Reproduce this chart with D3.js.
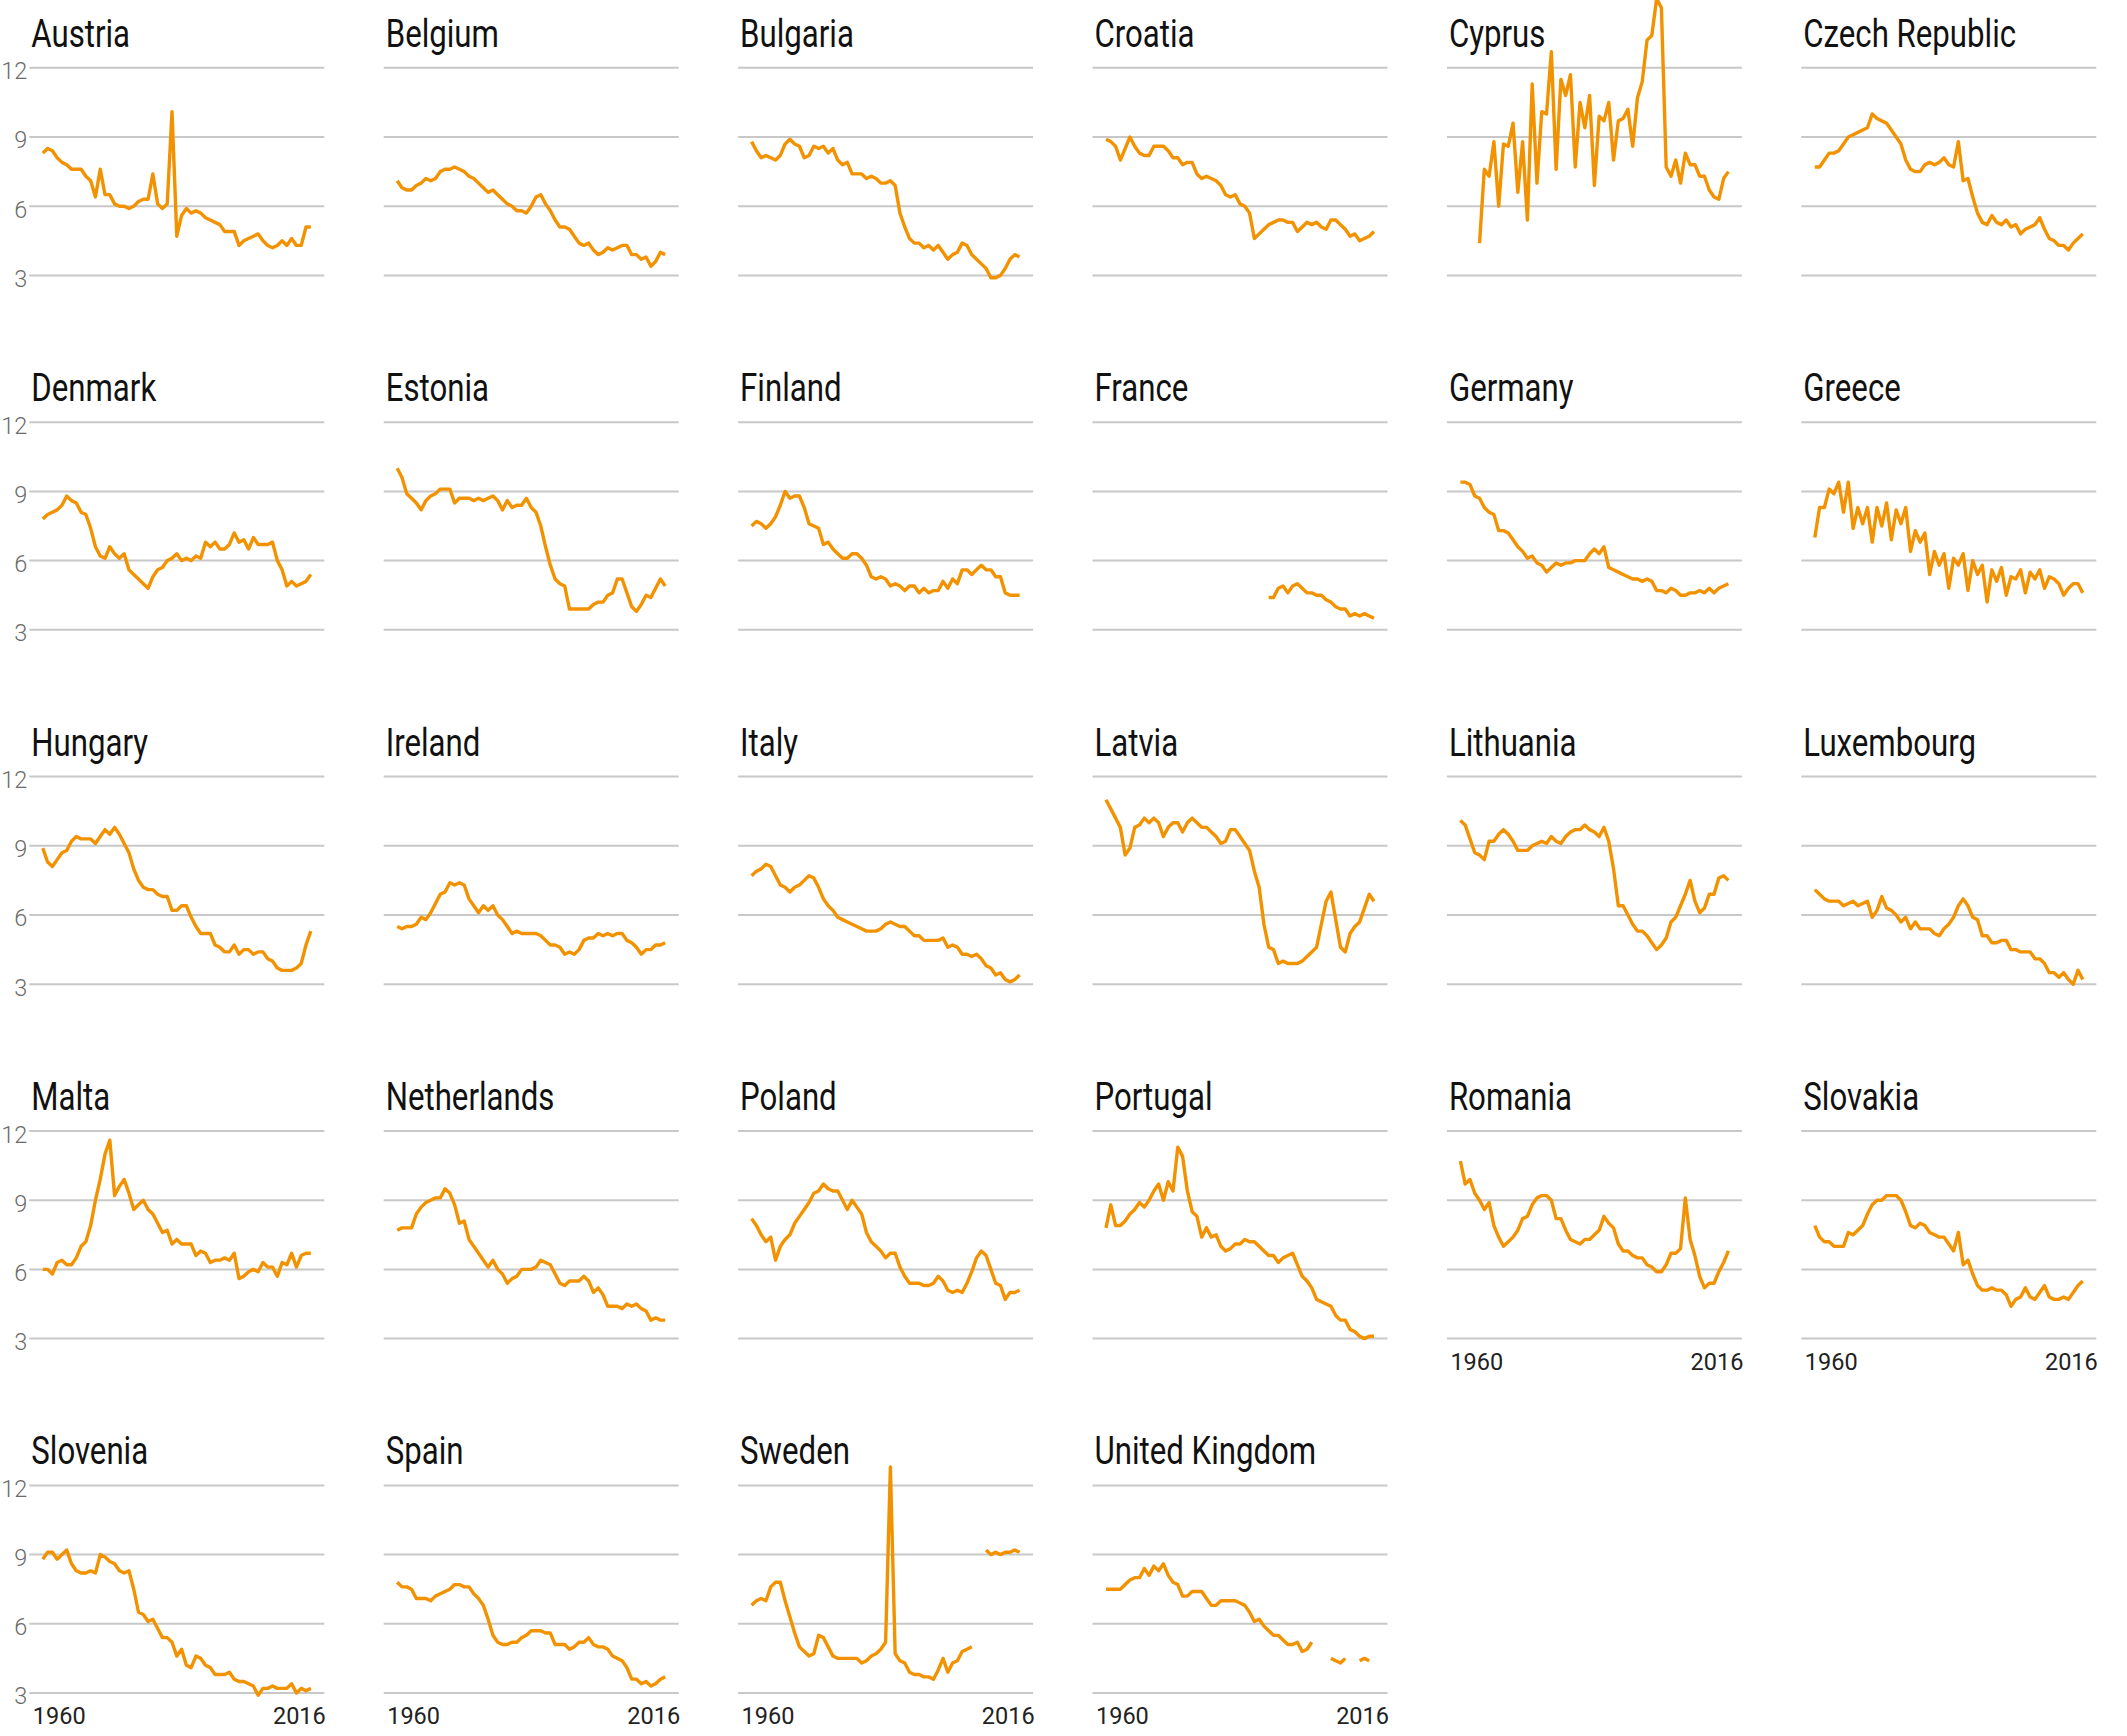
<!DOCTYPE html>
<html>
<head>
<meta charset="utf-8">
<script src="https://cdn.jsdelivr.net/npm/d3@7/dist/d3.min.js"></script>
<style>
  body { margin: 0; background: #fff; }
  text { font-family: Roboto, "Open Sans", sans-serif; }
  text.ytick { font-weight: 300; }
</style>
</head>
<body>
<div id="chart"></div>
<script>
// crude marriage rate per 1000 people, 1960-2016
var firstYear = 1960, lastYear = 2016;
var yTicks = [3, 6, 9, 12];
var xTickLabels = ["1960", "2016"];

var countries = ["Austria", "Belgium", "Bulgaria", "Croatia", "Cyprus", "Czech Republic",
  "Denmark", "Estonia", "Finland", "France", "Germany", "Greece",
  "Hungary", "Ireland", "Italy", "Latvia", "Lithuania", "Luxembourg",
  "Malta", "Netherlands", "Poland", "Portugal", "Romania", "Slovakia",
  "Slovenia", "Spain", "Sweden", "United Kingdom"];

var austria = [8.3, 8.5, 8.4, 8.1, 7.9, 7.8, 7.6, 7.6, 7.6, 7.3,
  7.1, 6.4, 7.6, 6.5, 6.5, 6.1, 6.0, 6.0, 5.9, 6.0,
  6.2, 6.3, 6.3, 7.4, 6.1, 5.9, 6.1, 10.1, 4.7, 5.6,
  5.9, 5.7, 5.8, 5.7, 5.5, 5.4, 5.3, 5.2, 4.9, 4.9,
  4.9, 4.3, 4.5, 4.6, 4.7, 4.8, 4.5, 4.3, 4.2, 4.3,
  4.5, 4.3, 4.6, 4.3, 4.3, 5.1, 5.1];
var belgium = [7.1, 6.8, 6.7, 6.7, 6.9, 7.0, 7.2, 7.1, 7.2, 7.5,
  7.6, 7.6, 7.7, 7.6, 7.5, 7.3, 7.2, 7.0, 6.8, 6.6,
  6.7, 6.5, 6.3, 6.1, 6.0, 5.8, 5.8, 5.7, 6.0, 6.4,
  6.5, 6.1, 5.8, 5.4, 5.1, 5.1, 5.0, 4.7, 4.4, 4.3,
  4.4, 4.1, 3.9, 4.0, 4.2, 4.1, 4.2, 4.3, 4.3, 3.9,
  3.9, 3.7, 3.8, 3.4, 3.6, 4.0, 3.9];
var bulgaria = [8.8, 8.4, 8.1, 8.2, 8.1, 8.0, 8.2, 8.7, 8.9, 8.7,
  8.6, 8.1, 8.2, 8.6, 8.5, 8.6, 8.3, 8.5, 8.0, 7.8,
  7.9, 7.4, 7.4, 7.4, 7.2, 7.3, 7.2, 7.0, 7.0, 7.1,
  6.9, 5.7, 5.1, 4.6, 4.4, 4.4, 4.2, 4.3, 4.1, 4.3,
  4.0, 3.7, 3.9, 4.0, 4.4, 4.3, 3.9, 3.7, 3.5, 3.3,
  2.9, 2.9, 3.0, 3.3, 3.7, 3.9, 3.8];
var croatia = [8.9, 8.8, 8.6, 8.0, 8.5, 9.0, 8.6, 8.3, 8.2, 8.2,
  8.6, 8.6, 8.6, 8.4, 8.1, 8.1, 7.8, 7.9, 7.9, 7.4,
  7.2, 7.3, 7.2, 7.1, 6.9, 6.5, 6.4, 6.5, 6.1, 6.0,
  5.7, 4.6, 4.8, 5.0, 5.2, 5.3, 5.4, 5.4, 5.3, 5.3,
  4.9, 5.1, 5.3, 5.2, 5.3, 5.1, 5.0, 5.4, 5.4, 5.2,
  5.0, 4.7, 4.8, 4.5, 4.6, 4.7, 4.9];
var cyprus = [null, null, null, null, 4.4, 7.6, 7.3, 8.8, 6.0, 8.7,
  8.6, 9.6, 6.6, 8.8, 5.4, 11.3, 7.0, 10.1, 10.0, 12.7,
  7.6, 11.5, 10.8, 11.7, 7.7, 10.5, 9.4, 10.8, 6.9, 9.9,
  9.7, 10.5, 8.0, 9.7, 9.8, 10.2, 8.6, 10.7, 11.4, 13.2,
  13.4, 15.0, 14.6, 7.7, 7.3, 8.0, 7.0, 8.3, 7.8, 7.8,
  7.3, 7.3, 6.7, 6.4, 6.3, 7.2, 7.5];
var czechRepublic = [7.7, 7.7, 8.0, 8.3, 8.3, 8.4, 8.7, 9.0, 9.1, 9.2,
  9.3, 9.4, 10.0, 9.8, 9.7, 9.6, 9.3, 9.0, 8.7, 8.0,
  7.6, 7.5, 7.5, 7.8, 7.9, 7.8, 7.9, 8.1, 7.8, 7.7,
  8.8, 7.1, 7.2, 6.4, 5.7, 5.3, 5.2, 5.6, 5.3, 5.2,
  5.4, 5.1, 5.2, 4.8, 5.0, 5.1, 5.2, 5.5, 5.0, 4.6,
  4.5, 4.3, 4.3, 4.1, 4.4, 4.6, 4.8];
var denmark = [7.8, 8.0, 8.1, 8.2, 8.4, 8.8, 8.6, 8.5, 8.1, 8.0,
  7.4, 6.6, 6.2, 6.1, 6.6, 6.3, 6.1, 6.3, 5.6, 5.4,
  5.2, 5.0, 4.8, 5.3, 5.6, 5.7, 6.0, 6.1, 6.3, 6.0,
  6.1, 6.0, 6.2, 6.1, 6.8, 6.6, 6.8, 6.5, 6.5, 6.7,
  7.2, 6.8, 6.9, 6.5, 7.0, 6.7, 6.7, 6.7, 6.8, 6.0,
  5.6, 4.9, 5.1, 4.9, 5.0, 5.1, 5.4];
var estonia = [10.0, 9.6, 8.9, 8.7, 8.5, 8.2, 8.6, 8.8, 8.9, 9.1,
  9.1, 9.1, 8.5, 8.7, 8.7, 8.7, 8.6, 8.7, 8.6, 8.7,
  8.8, 8.6, 8.2, 8.6, 8.3, 8.4, 8.4, 8.7, 8.3, 8.1,
  7.5, 6.6, 5.8, 5.2, 5.0, 4.9, 3.9, 3.9, 3.9, 3.9,
  3.9, 4.1, 4.2, 4.2, 4.5, 4.6, 5.2, 5.2, 4.6, 4.0,
  3.8, 4.1, 4.5, 4.4, 4.8, 5.2, 4.9];
var finland = [7.5, 7.7, 7.6, 7.4, 7.6, 7.9, 8.4, 9.0, 8.7, 8.8,
  8.8, 8.3, 7.6, 7.5, 7.4, 6.7, 6.8, 6.5, 6.3, 6.1,
  6.1, 6.3, 6.3, 6.1, 5.8, 5.3, 5.2, 5.3, 5.2, 4.9,
  5.0, 4.9, 4.7, 4.9, 4.9, 4.6, 4.8, 4.6, 4.7, 4.7,
  5.1, 4.8, 5.2, 5.0, 5.6, 5.6, 5.4, 5.6, 5.8, 5.6,
  5.6, 5.3, 5.3, 4.6, 4.5, 4.5, 4.5];
var france = [null, null, null, null, null, null, null, null, null, null,
  null, null, null, null, null, null, null, null, null, null,
  null, null, null, null, null, null, null, null, null, null,
  null, null, null, null, 4.4, 4.4, 4.8, 4.9, 4.6, 4.9,
  5.0, 4.8, 4.6, 4.6, 4.5, 4.5, 4.3, 4.2, 4.0, 3.9,
  3.9, 3.6, 3.7, 3.6, 3.7, 3.6, 3.5];
var germany = [9.4, 9.4, 9.3, 8.8, 8.7, 8.3, 8.1, 8.0, 7.3, 7.3,
  7.2, 6.9, 6.6, 6.4, 6.1, 6.2, 5.9, 5.8, 5.5, 5.7,
  5.9, 5.8, 5.9, 5.9, 6.0, 6.0, 6.0, 6.3, 6.5, 6.3,
  6.6, 5.7, 5.6, 5.5, 5.4, 5.3, 5.2, 5.2, 5.1, 5.2,
  5.1, 4.7, 4.7, 4.6, 4.8, 4.7, 4.5, 4.5, 4.6, 4.6,
  4.7, 4.6, 4.8, 4.6, 4.8, 4.9, 5.0];
var greece = [7.0, 8.3, 8.3, 9.1, 8.9, 9.4, 8.1, 9.4, 7.4, 8.3,
  7.6, 8.3, 6.8, 8.3, 7.5, 8.5, 6.9, 8.2, 7.6, 8.3,
  6.4, 7.3, 6.8, 7.2, 5.4, 6.4, 5.8, 6.3, 4.8, 6.1,
  5.8, 6.3, 4.7, 6.0, 5.4, 5.8, 4.2, 5.6, 5.1, 5.7,
  4.5, 5.3, 5.2, 5.6, 4.6, 5.5, 5.2, 5.6, 4.8, 5.3,
  5.2, 5.0, 4.5, 4.8, 5.0, 5.0, 4.6];
var hungary = [8.9, 8.3, 8.1, 8.4, 8.7, 8.8, 9.2, 9.4, 9.3, 9.3,
  9.3, 9.1, 9.4, 9.7, 9.5, 9.8, 9.5, 9.1, 8.7, 8.0,
  7.5, 7.2, 7.1, 7.1, 6.9, 6.8, 6.8, 6.2, 6.2, 6.4,
  6.4, 5.9, 5.5, 5.2, 5.2, 5.2, 4.7, 4.6, 4.4, 4.4,
  4.7, 4.3, 4.5, 4.5, 4.3, 4.4, 4.4, 4.1, 4.0, 3.7,
  3.6, 3.6, 3.6, 3.7, 3.9, 4.7, 5.3];
var ireland = [5.5, 5.4, 5.5, 5.5, 5.6, 5.9, 5.8, 6.1, 6.5, 6.9,
  7.0, 7.4, 7.3, 7.4, 7.3, 6.7, 6.4, 6.1, 6.4, 6.2,
  6.4, 6.0, 5.8, 5.5, 5.2, 5.3, 5.2, 5.2, 5.2, 5.2,
  5.1, 4.9, 4.7, 4.7, 4.6, 4.3, 4.4, 4.3, 4.5, 4.9,
  5.0, 5.0, 5.2, 5.1, 5.2, 5.1, 5.2, 5.2, 4.9, 4.8,
  4.6, 4.3, 4.5, 4.5, 4.7, 4.7, 4.8];
var italy = [7.7, 7.9, 8.0, 8.2, 8.1, 7.7, 7.3, 7.2, 7.0, 7.2,
  7.3, 7.5, 7.7, 7.6, 7.2, 6.7, 6.4, 6.2, 5.9, 5.8,
  5.7, 5.6, 5.5, 5.4, 5.3, 5.3, 5.3, 5.4, 5.6, 5.7,
  5.6, 5.5, 5.5, 5.3, 5.1, 5.1, 4.9, 4.9, 4.9, 4.9,
  5.0, 4.6, 4.7, 4.6, 4.3, 4.3, 4.2, 4.3, 4.1, 3.8,
  3.7, 3.4, 3.5, 3.2, 3.1, 3.2, 3.4];
var latvia = [11.0, 10.6, 10.2, 9.8, 8.6, 8.9, 9.8, 9.9, 10.2, 10.0,
  10.2, 10.0, 9.4, 9.8, 10.0, 10.0, 9.6, 10.0, 10.2, 10.0,
  9.8, 9.8, 9.6, 9.4, 9.1, 9.2, 9.7, 9.7, 9.4, 9.1,
  8.8, 7.9, 7.2, 5.6, 4.6, 4.5, 3.9, 4.0, 3.9, 3.9,
  3.9, 4.0, 4.2, 4.4, 4.6, 5.6, 6.6, 7.0, 5.8, 4.6,
  4.4, 5.2, 5.5, 5.7, 6.3, 6.9, 6.6];
var lithuania = [10.1, 9.9, 9.3, 8.7, 8.6, 8.4, 9.2, 9.2, 9.5, 9.7,
  9.5, 9.2, 8.8, 8.8, 8.8, 9.0, 9.1, 9.2, 9.1, 9.4,
  9.2, 9.1, 9.4, 9.6, 9.7, 9.7, 9.9, 9.7, 9.6, 9.4,
  9.8, 9.2, 8.0, 6.4, 6.4, 6.0, 5.6, 5.3, 5.3, 5.1,
  4.8, 4.5, 4.7, 5.0, 5.7, 5.9, 6.4, 6.9, 7.5, 6.6,
  6.1, 6.3, 6.9, 6.9, 7.6, 7.7, 7.5];
var luxembourg = [7.1, 6.9, 6.7, 6.6, 6.6, 6.6, 6.4, 6.5, 6.6, 6.4,
  6.5, 6.6, 5.9, 6.2, 6.8, 6.3, 6.2, 6.0, 5.7, 5.9,
  5.4, 5.7, 5.4, 5.4, 5.4, 5.2, 5.1, 5.4, 5.6, 5.9,
  6.4, 6.7, 6.4, 5.9, 5.8, 5.1, 5.1, 4.8, 4.8, 4.9,
  4.9, 4.5, 4.5, 4.4, 4.4, 4.4, 4.1, 4.1, 3.9, 3.5,
  3.5, 3.3, 3.5, 3.2, 3.0, 3.6, 3.2];
var malta = [6.0, 6.0, 5.8, 6.3, 6.4, 6.2, 6.2, 6.5, 7.0, 7.2,
  7.9, 9.0, 9.9, 11.0, 11.6, 9.2, 9.6, 9.9, 9.3, 8.6,
  8.8, 9.0, 8.6, 8.4, 8.0, 7.6, 7.7, 7.1, 7.3, 7.1,
  7.1, 7.1, 6.6, 6.8, 6.7, 6.3, 6.4, 6.4, 6.5, 6.4,
  6.7, 5.6, 5.7, 5.9, 6.0, 5.9, 6.3, 6.1, 6.1, 5.7,
  6.3, 6.2, 6.7, 6.1, 6.6, 6.7, 6.7];
var netherlands = [7.7, 7.8, 7.8, 7.8, 8.4, 8.7, 8.9, 9.0, 9.1, 9.1,
  9.5, 9.3, 8.8, 8.0, 8.1, 7.3, 7.0, 6.7, 6.4, 6.1,
  6.4, 6.0, 5.8, 5.4, 5.6, 5.7, 6.0, 6.0, 6.0, 6.1,
  6.4, 6.3, 6.2, 5.8, 5.4, 5.3, 5.5, 5.5, 5.5, 5.7,
  5.5, 5.0, 5.2, 4.9, 4.4, 4.4, 4.4, 4.3, 4.5, 4.4,
  4.5, 4.3, 4.2, 3.8, 3.9, 3.8, 3.8];
var poland = [8.2, 7.9, 7.5, 7.2, 7.4, 6.4, 7.0, 7.3, 7.5, 8.0,
  8.3, 8.6, 8.9, 9.3, 9.4, 9.7, 9.5, 9.4, 9.4, 9.0,
  8.6, 9.0, 8.7, 8.4, 7.6, 7.2, 7.0, 6.8, 6.5, 6.7,
  6.7, 6.1, 5.7, 5.4, 5.4, 5.4, 5.3, 5.3, 5.4, 5.7,
  5.5, 5.1, 5.0, 5.1, 5.0, 5.4, 5.9, 6.5, 6.8, 6.6,
  6.0, 5.4, 5.3, 4.7, 5.0, 5.0, 5.1];
var portugal = [7.8, 8.8, 7.9, 7.9, 8.1, 8.4, 8.6, 8.9, 8.7, 9.0,
  9.4, 9.7, 9.0, 9.8, 9.4, 11.3, 10.9, 9.4, 8.5, 8.3,
  7.4, 7.8, 7.4, 7.5, 7.0, 6.8, 6.9, 7.1, 7.1, 7.3,
  7.2, 7.2, 7.0, 6.8, 6.6, 6.6, 6.3, 6.5, 6.6, 6.7,
  6.2, 5.7, 5.5, 5.2, 4.7, 4.6, 4.5, 4.4, 4.0, 3.8,
  3.8, 3.4, 3.3, 3.1, 3.0, 3.1, 3.1];
var romania = [10.7, 9.7, 9.9, 9.3, 9.0, 8.6, 8.9, 7.9, 7.4, 7.0,
  7.2, 7.4, 7.7, 8.2, 8.3, 8.8, 9.1, 9.2, 9.2, 9.0,
  8.2, 8.2, 7.7, 7.3, 7.2, 7.1, 7.3, 7.3, 7.5, 7.7,
  8.3, 8.0, 7.8, 7.1, 6.8, 6.8, 6.6, 6.5, 6.5, 6.2,
  6.1, 5.9, 5.9, 6.2, 6.7, 6.7, 6.9, 9.1, 7.3, 6.6,
  5.7, 5.2, 5.4, 5.4, 5.9, 6.3, 6.8];
var slovakia = [7.9, 7.4, 7.2, 7.2, 7.0, 7.0, 7.0, 7.6, 7.5, 7.7,
  7.9, 8.4, 8.8, 9.0, 9.0, 9.2, 9.2, 9.2, 9.0, 8.5,
  7.9, 7.8, 8.0, 7.9, 7.6, 7.5, 7.4, 7.4, 7.1, 6.8,
  7.6, 6.2, 6.4, 5.8, 5.3, 5.1, 5.1, 5.2, 5.1, 5.1,
  4.9, 4.4, 4.7, 4.8, 5.2, 4.8, 4.7, 5.0, 5.3, 4.8,
  4.7, 4.7, 4.8, 4.7, 5.0, 5.3, 5.5];
var slovenia = [8.8, 9.1, 9.1, 8.8, 9.0, 9.2, 8.6, 8.3, 8.2, 8.2,
  8.3, 8.2, 9.0, 8.9, 8.7, 8.6, 8.3, 8.2, 8.3, 7.5,
  6.5, 6.4, 6.1, 6.2, 5.8, 5.4, 5.4, 5.2, 4.6, 4.9,
  4.2, 4.1, 4.6, 4.5, 4.2, 4.1, 3.8, 3.8, 3.8, 3.9,
  3.6, 3.5, 3.5, 3.4, 3.3, 2.9, 3.2, 3.2, 3.3, 3.2,
  3.2, 3.2, 3.4, 3.0, 3.2, 3.1, 3.2];
var spain = [7.8, 7.6, 7.6, 7.5, 7.1, 7.1, 7.1, 7.0, 7.2, 7.3,
  7.4, 7.5, 7.7, 7.7, 7.6, 7.6, 7.3, 7.1, 6.8, 6.2,
  5.5, 5.2, 5.1, 5.1, 5.2, 5.2, 5.4, 5.5, 5.7, 5.7,
  5.7, 5.6, 5.6, 5.1, 5.1, 5.1, 4.9, 5.0, 5.2, 5.2,
  5.4, 5.1, 5.0, 5.0, 4.9, 4.6, 4.5, 4.4, 4.1, 3.6,
  3.6, 3.4, 3.5, 3.3, 3.4, 3.6, 3.7];
var sweden = [6.8, 7.0, 7.1, 7.0, 7.6, 7.8, 7.8, 7.0, 6.3, 5.6,
  5.0, 4.8, 4.6, 4.7, 5.5, 5.4, 5.0, 4.6, 4.5, 4.5,
  4.5, 4.5, 4.5, 4.3, 4.4, 4.6, 4.7, 4.9, 5.2, 12.8,
  4.7, 4.4, 4.3, 3.9, 3.8, 3.8, 3.7, 3.7, 3.6, 4.0,
  4.5, 3.9, 4.3, 4.4, 4.8, 4.9, 5.0, null, null, 9.2,
  9.0, 9.1, 9.0, 9.1, 9.1, 9.2, 9.1];
var unitedKingdom = [7.5, 7.5, 7.5, 7.5, 7.7, 7.9, 8.0, 8.0, 8.4, 8.1,
  8.5, 8.3, 8.6, 8.1, 7.8, 7.7, 7.2, 7.2, 7.4, 7.4,
  7.4, 7.1, 6.8, 6.8, 7.0, 7.0, 7.0, 7.0, 6.9, 6.8,
  6.5, 6.1, 6.2, 5.9, 5.7, 5.5, 5.5, 5.3, 5.1, 5.1,
  5.2, 4.8, 4.9, 5.2, null, null, null, 4.5, 4.4, 4.3,
  4.5, null, null, 4.4, 4.5, 4.4, null];

var series = [austria, belgium, bulgaria, croatia, cyprus, czechRepublic,
  denmark, estonia, finland, france, germany, greece,
  hungary, ireland, italy, latvia, lithuania, luxembourg,
  malta, netherlands, poland, portugal, romania, slovakia,
  slovenia, spain, sweden, unitedKingdom];

var width = 2127,
    height = 1736;

var nCols = 6,
    cellW = 354.4,
    cellH = 354.4,
    offsetX = 29.3,
    offsetY = 67.8,
    plotW = 295,
    plotH = 207.6;

var svg = d3.select("#chart")
  .append("svg")
  .attr("width", width)
  .attr("height", height);

var x = d3.scaleLinear().domain([firstYear, lastYear]).range([13.5, plotW - 13.5]);
var y = d3.scaleLinear().domain([3, 12]).range([plotH, 0]);

var line = d3.line()
  .defined(function(d){ return d != null; })
  .x(function(d, i){ return x(firstYear + i); })
  .y(function(d){ return y(d); });

var panel = svg.selectAll("g.panel")
  .data(countries)
  .enter()
  .append("g")
  .attr("class", "panel")
  .attr("transform", function(d, i){
    return "translate(" + (offsetX + (i % nCols) * cellW) + "," + (offsetY + Math.floor(i / nCols) * cellH) + ")";
  });

// grid lines
panel.selectAll("line.grid")
  .data(yTicks)
  .enter()
  .append("line")
  .attr("class", "grid")
  .attr("x1", 0)
  .attr("x2", plotW)
  .attr("y1", function(d){ return y(d); })
  .attr("y2", function(d){ return y(d); })
  .attr("stroke", "#c8c8c8")
  .attr("stroke-width", 2);

// titles, squeezed to look like a narrow face
panel.append("text")
  .attr("transform", "translate(2,-21) scale(0.8,1)")
  .attr("font-size", 39)
  .attr("fill", "#111")
  .text(function(d){ return d; });

// y labels, first column only
panel.filter(function(d, i){ return i % nCols == 0; })
  .selectAll("text.ytick")
  .data(yTicks)
  .enter()
  .append("text")
  .attr("class", "ytick")
  .attr("x", -2)
  .attr("y", function(d){ return y(d) + 11.5; })
  .attr("text-anchor", "end")
  .attr("font-size", 23.5)
  .attr("fill", "#6b6b6b")
  .text(function(d){ return d; });

// year labels under the last panel of each column
panel.filter(function(d, i){ return i + nCols >= countries.length; })
  .selectAll("text.xtick")
  .data(xTickLabels)
  .enter()
  .append("text")
  .attr("class", "xtick")
  .attr("x", function(d, i){ return i == 0 ? 3.5 : plotW + 1.5; })
  .attr("y", plotH + 31)
  .attr("text-anchor", function(d, i){ return i == 0 ? "start" : "end"; })
  .attr("font-size", 23.5)
  .attr("fill", "#222")
  .text(function(d){ return d; });

// the lines
panel.append("path")
  .attr("d", function(d, i){ return line(series[i]); })
  .attr("fill", "none")
  .attr("stroke", "#f39200")
  .attr("stroke-width", 3.4)
  .attr("stroke-linejoin", "round");
</script>
</body>
</html>
